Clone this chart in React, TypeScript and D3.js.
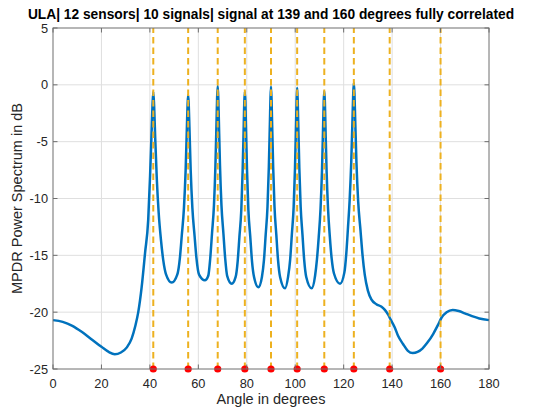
import React from "react";
import * as d3 from "d3";

const titleText = "ULA| 12 sensors| 10 signals| signal at 139 and 160 degrees fully correlated";
const xLabel = "Angle in degrees";
const yLabel = "MPDR Power Spectrum in dB";

const xTicks = [0, 20, 40, 60, 80, 100, 120, 140, 160, 180];
const yTicks = [5, 0, -5, -10, -15, -20, -25];

// true directions of arrival (degrees)
const signalAngles = [41.4, 55.8, 68.0, 79.2, 90.0, 100.8, 112.0, 124.2, 139.0, 160.0];

// MPDR spectrum: angle (deg)
const spectrumAngle = [
  0, 4, 8, 12, 16, 20, 23, 25.5, 28, 30.5, 32.5, 34, 35.2, 36.6, 38.0, 39.3, 40.08, 40.63, 41.07,
  41.4, 41.74, 42.18, 42.86, 43.64, 44.55, 45.5, 46.7, 49.0,
  51.3, 52.4, 53.15, 54.07, 54.76, 55.28, 55.57, 55.8, 56.03, 56.32, 56.84, 57.53, 58.45, 59.2, 60.3, 62.7,
  64.1, 64.9, 65.64, 66.45, 67.06, 67.53, 67.76, 68.0, 68.24, 68.47, 68.94, 69.55, 70.36, 71.1, 71.9, 73.8,
  75.4, 76.25, 76.95, 77.74, 78.3, 78.75, 78.97, 79.2, 79.43, 79.65, 80.1, 80.66, 81.45, 82.15, 83.0, 84.8,
  86.25, 87.1, 87.8, 88.56, 89.11, 89.56, 89.78, 90.0, 90.22, 90.44, 90.89, 91.44, 92.2, 92.9, 93.75, 95.8,
  97.05, 97.9, 98.6, 99.36, 99.91, 100.36, 100.58, 100.8, 101.02, 101.24, 101.69, 102.24, 103.0, 103.7, 104.55, 106.8,
  108.2, 108.95, 109.7, 110.45, 111.06, 111.53, 111.76, 112.0, 112.24, 112.47, 112.94, 113.55, 114.3, 115.05, 116.0, 118.5,
  120.3, 121.1, 121.8, 122.48, 123.13, 123.67, 123.94, 124.2, 124.46, 124.73, 125.27, 126.0, 126.95, 127.8, 128.7,
  130.0, 131.5, 133.5, 135.5, 137.0, 138.3, 139.5, 141.0, 142.5, 144.5, 146.5, 148.5, 150.5, 152.5, 154.5,
  157.0, 159.0, 160.5, 162.5, 165.0, 167.5, 170.0, 173.0, 176.0, 180.0,
];
// MPDR spectrum: power (dB)
const spectrumDb = [
  -20.7, -20.85, -21.2, -21.75, -22.4, -23.05, -23.5, -23.7, -23.55, -23.1, -22.3, -21.2, -20.0, -17.8, -14.8, -11.9, -8.0, -4.6, -1.8,
  -0.6, -1.8, -4.6, -8.3, -11.3, -13.6, -15.4, -16.7, -17.4,
  -16.7, -15.2, -13.3, -10.8, -7.5, -3.7, -1.7, -0.9, -1.7, -3.7, -7.5, -10.8, -13.3, -15.2, -16.7, -17.2,
  -16.8, -15.3, -13.1, -10.6, -7.1, -3.1, -1.1, -0.1, -1.1, -3.1, -7.1, -10.6, -13.1, -15.3, -16.8, -17.5,
  -16.9, -15.5, -13.4, -11.0, -7.5, -3.5, -1.5, -0.6, -1.5, -3.5, -7.5, -11.0, -13.4, -15.5, -16.9, -17.8,
  -16.9, -15.4, -13.2, -10.7, -7.2, -3.2, -1.2, -0.15, -1.2, -3.2, -7.2, -10.7, -13.2, -15.4, -16.9, -17.9,
  -16.9, -15.4, -13.2, -10.7, -7.3, -3.3, -1.3, -0.25, -1.3, -3.3, -7.3, -10.7, -13.2, -15.4, -16.9, -17.9,
  -16.8, -15.4, -13.4, -10.9, -7.5, -3.5, -1.5, -0.55, -1.5, -3.5, -7.5, -10.9, -13.4, -15.3, -16.6, -17.5,
  -16.5, -14.8, -12.5, -10.1, -6.8, -2.8, -0.8, 0.2, -0.8, -2.8, -6.8, -10.3, -12.8, -15.0, -16.7,
  -18.1, -18.9, -19.3, -19.5, -19.8, -20.2, -20.7, -21.3, -22.1, -22.8, -23.4, -23.6, -23.5, -23.2, -22.7,
  -21.9, -21.1, -20.45, -20.0, -19.8, -19.9, -20.1, -20.35, -20.55, -20.7,
];

const W = 534;
const H = 410;
const left = 53;
const right = 489;
const top = 28;
const bottom = 369;
const font = "'Liberation Sans', Arial, Helvetica, sans-serif";
const textColor = "#262626";

export default function App() {
  const x = d3.scaleLinear().domain([0, 180]).range([left, right]);
  const y = d3.scaleLinear().domain([-25, 5]).range([bottom, top]);

  const pts: [number, number][] = spectrumAngle.map((a, i) => [a, spectrumDb[i]]);
  const line = d3
    .line<[number, number]>()
    .x((d) => x(d[0]))
    .y((d) => y(d[1]))
    .curve(d3.curveMonotoneX);

  const tickLen = 4.5;

  return (
    <svg
      width={W}
      height={H}
      style={{ position: "absolute", left: 0, top: 0, background: "#fff" }}
      fontFamily={font}
    >
      <rect x={0} y={0} width={W} height={H} fill="#fff" />
      {/* grid */}
      <g stroke="#dfdfdf" strokeWidth={1}>
        {xTicks.slice(1, -1).map((t) => (
          <line key={"gx" + t} x1={x(t)} x2={x(t)} y1={top} y2={bottom} />
        ))}
        {yTicks.slice(1, -1).map((t) => (
          <line key={"gy" + t} x1={left} x2={right} y1={y(t)} y2={y(t)} />
        ))}
      </g>

      {/* spectrum */}
      <path d={line(pts) || ""} fill="none" stroke="#0072BD" strokeWidth={2.5} strokeLinejoin="round" />

      {/* true DOA lines */}
      <g stroke="#EDB120" strokeWidth={2} strokeDasharray="6.5,4">
        {signalAngles.map((a) => (
          <line key={"s" + a} x1={x(a)} x2={x(a)} y1={y(-25)} y2={y(5)} />
        ))}
      </g>
      <g fill="#FF0000">
        {signalAngles.map((a) => (
          <circle key={"m" + a} cx={x(a)} cy={y(-25)} r={3.6} />
        ))}
      </g>

      {/* axes box */}
      <rect x={left} y={top} width={right - left} height={bottom - top} fill="none" stroke="#6e6e6e" strokeWidth={1} />
      <g stroke="#6e6e6e" strokeWidth={1}>
        {xTicks.map((t) => (
          <g key={"tx" + t}>
            <line x1={x(t)} x2={x(t)} y1={bottom} y2={bottom - tickLen} />
            <line x1={x(t)} x2={x(t)} y1={top} y2={top + tickLen} />
          </g>
        ))}
        {yTicks.map((t) => (
          <g key={"ty" + t}>
            <line x1={left} x2={left + tickLen} y1={y(t)} y2={y(t)} />
            <line x1={right} x2={right - tickLen} y1={y(t)} y2={y(t)} />
          </g>
        ))}
      </g>

      {/* tick labels */}
      <g fill={textColor} fontSize={12.8}>
        {xTicks.map((t) => (
          <text key={"lx" + t} x={x(t)} y={388} textAnchor="middle">
            {t}
          </text>
        ))}
        {yTicks.map((t) => (
          <text key={"ly" + t} x={left - 5} y={y(t) + 4.5} textAnchor="end">
            {t}
          </text>
        ))}
      </g>

      <text x={(left + right) / 2} y={404} textAnchor="middle" fill={textColor} fontSize={14.5}>
        {xLabel}
      </text>
      <text
        transform={`translate(21.5,${(top + bottom) / 2}) rotate(-90)`}
        textAnchor="middle"
        fill={textColor}
        fontSize={14.5}
      >
        {yLabel}
      </text>
      <text x={(left + right) / 2} y={18.5} textAnchor="middle" fill="#000" fontSize={13.75} fontWeight="bold">
        {titleText}
      </text>
    </svg>
  );
}
